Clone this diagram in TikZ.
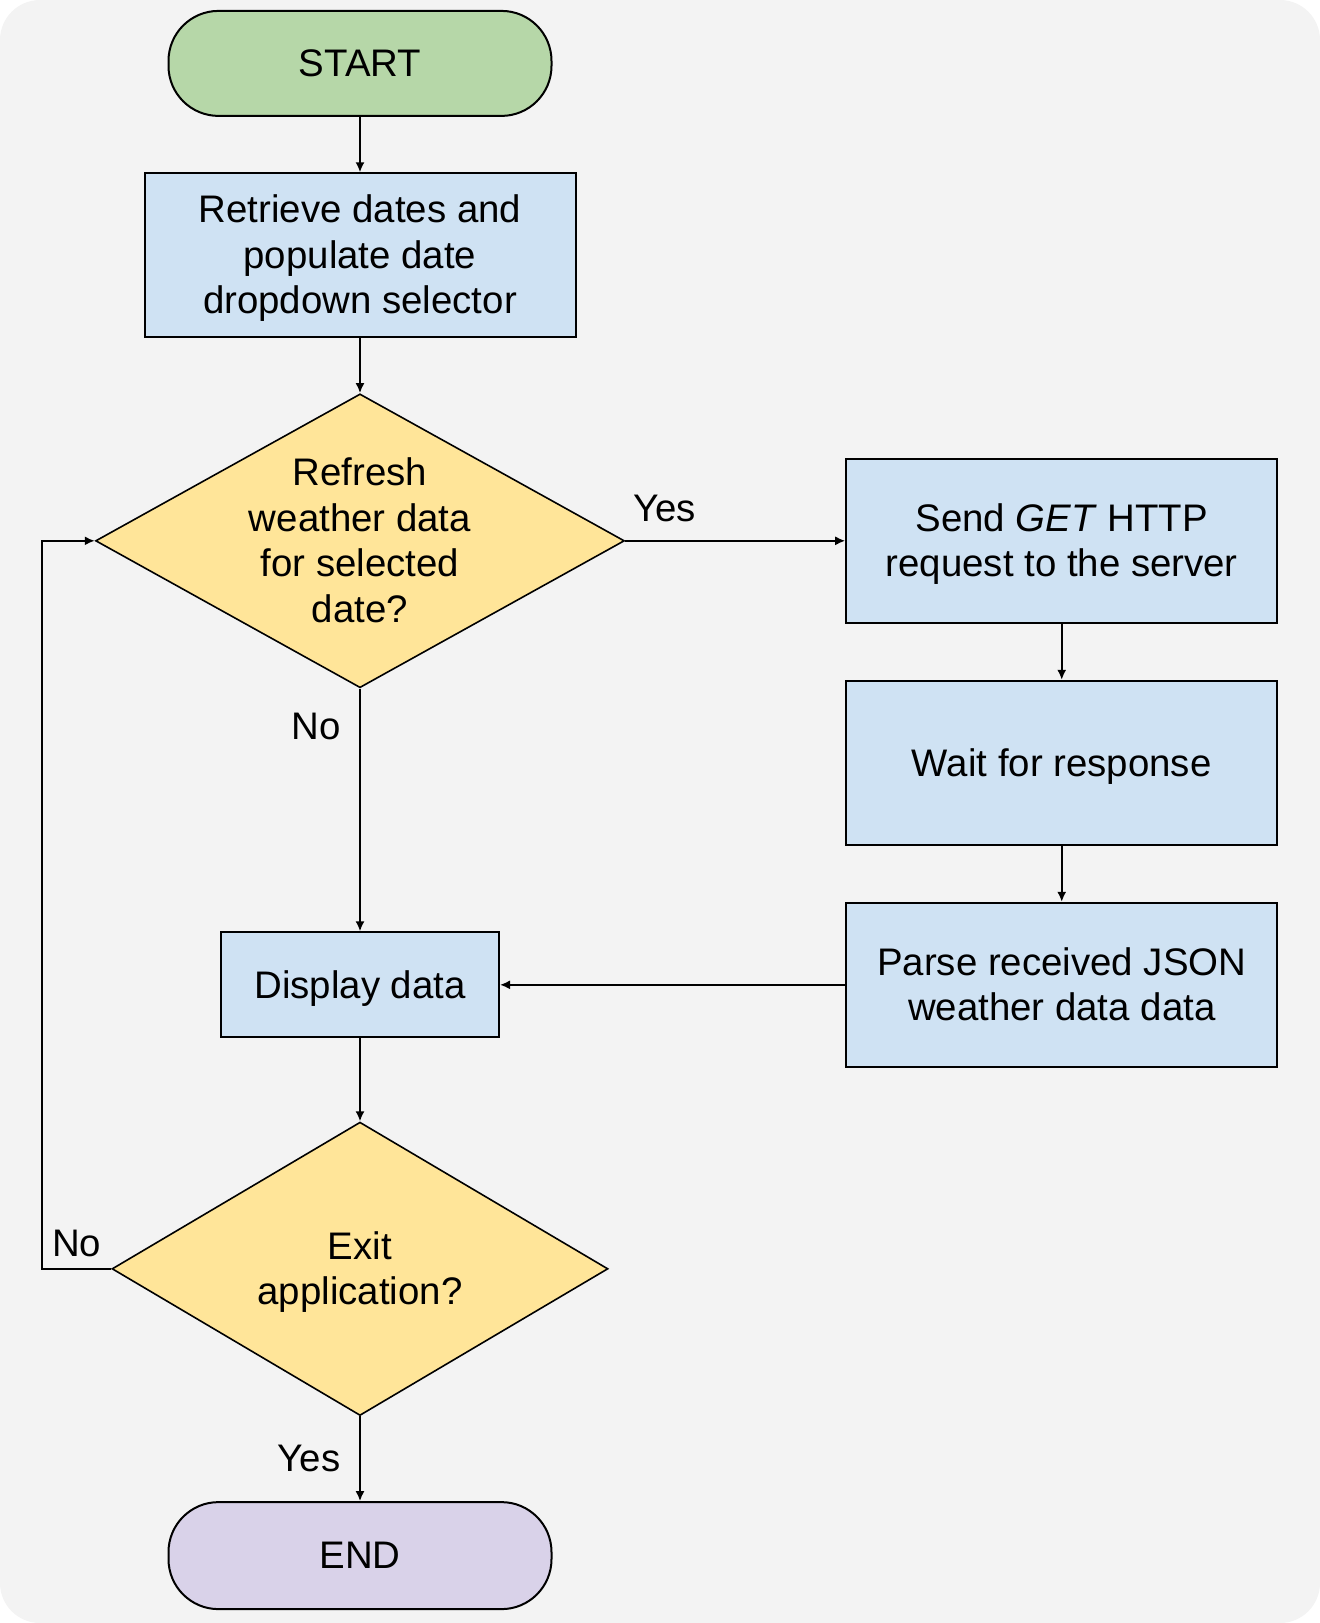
\documentclass[tikz,border=0pt]{standalone}
\usepackage{xcolor}
\usepackage{fontspec}
\setmainfont{Liberation Sans}
\usepackage{tikz}
\usetikzlibrary{positioning,shapes.geometric,arrows.meta}

\definecolor{bggrey}{HTML}{F3F3F3}
\definecolor{startgreen}{HTML}{B6D7A8}
\definecolor{stepblue}{HTML}{CFE2F3}
\definecolor{askyellow}{HTML}{FFE599}
\definecolor{endpurple}{HTML}{D9D2E9}

\begin{document}
\begin{tikzpicture}[
				font=\fontsize{19.2pt}{22.8pt}\selectfont,
				strutted/.style={execute at begin node={\rule[-4.1pt]{0pt}{21.5pt}}, execute at end node={\rule[-4.1pt]{0pt}{21.5pt}}},
				twolines/.style={text height=40.2pt, text depth=4.1pt},
				threelines/.style={text height=63pt, text depth=4.1pt},
				fourlines/.style={text height=85.8pt, text depth=4.1pt},
				termnode/.style={rectangle, rounded corners=25pt, draw=black, line width=1pt, strutted, minimum width=191.5pt, minimum height=52.5pt},
				squarednode/.style={rectangle, draw=black, fill=stepblue, line width=1pt, align=center, strutted, minimum width=215.5pt, minimum height=82pt},
				decisionnode/.style={diamond, draw=black, fill=askyellow, line width=0.8pt, align=center, strutted, inner sep=-1.5pt},
				arr/.style={-{Latex[length=5pt,width=4.5pt]}, line width=0.9pt},
				]
				%Background
				\useasboundingbox (0,0) rectangle (660pt,-811.5pt);
				\fill[bggrey, rounded corners=20pt] (0,0) rectangle (660pt,-811.5pt);

				%Nodes
				\node[termnode, fill=startgreen](start) at (180pt,-31.7pt){START};
				\node[squarednode, threelines, minimum height=81.7pt](read)[below=27.7pt of start]{Retrieve dates and\\populate date\\dropdown selector};
				\node[decisionnode, fourlines, minimum width=263.5pt, minimum height=146.5pt, aspect=1.8](refresh)[below=27.7pt of read]{Refresh\\weather data\\for selected\\date?};
				\node[squarednode, twolines](send)[right=110pt of refresh]{Send \textit{GET} HTTP\\request to the server};
				\node[squarednode](wait)[below=28pt of send]{Wait for response};
				\node[squarednode, twolines](parse)[below=28pt of wait]{Parse received JSON\\weather data data};
				\node[squarednode, minimum width=139pt, minimum height=52.5pt](display) at (refresh |- parse){Display data};
				\node[decisionnode, twolines, minimum width=248pt, minimum height=146.7pt, aspect=1.7](exitq)[below=41.5pt of display]{Exit\\application?};
				\node[termnode, fill=endpurple, minimum height=53.5pt](end)[below=42.4pt of exitq]{END};

				%Lines
				\draw[arr] (start.south) -- (read.north);
				\draw[arr] (read.south) -- (refresh.north);
				\draw[arr] (refresh.east) -- node[pos=0.18, above=5.5pt]{Yes} (send.west);
				\draw[arr] (send.south) -- (wait.north);
				\draw[arr] (wait.south) -- (parse.north);
				\draw[arr] (parse.west) -- (display.east);
				\draw[arr] (refresh.south) -- node[pos=0.155, left=6pt]{No} (display.north);
				\draw[arr] (display.south) -- (exitq.north);
				\draw[arr] (exitq.south) -- node[midway, left=6pt]{Yes} (end.north);
				\draw[arr] (exitq.west) -- node[midway, above=2pt]{No} ++(-34.5pt,0) |- (refresh.west);

			\end{tikzpicture}
\end{document}
